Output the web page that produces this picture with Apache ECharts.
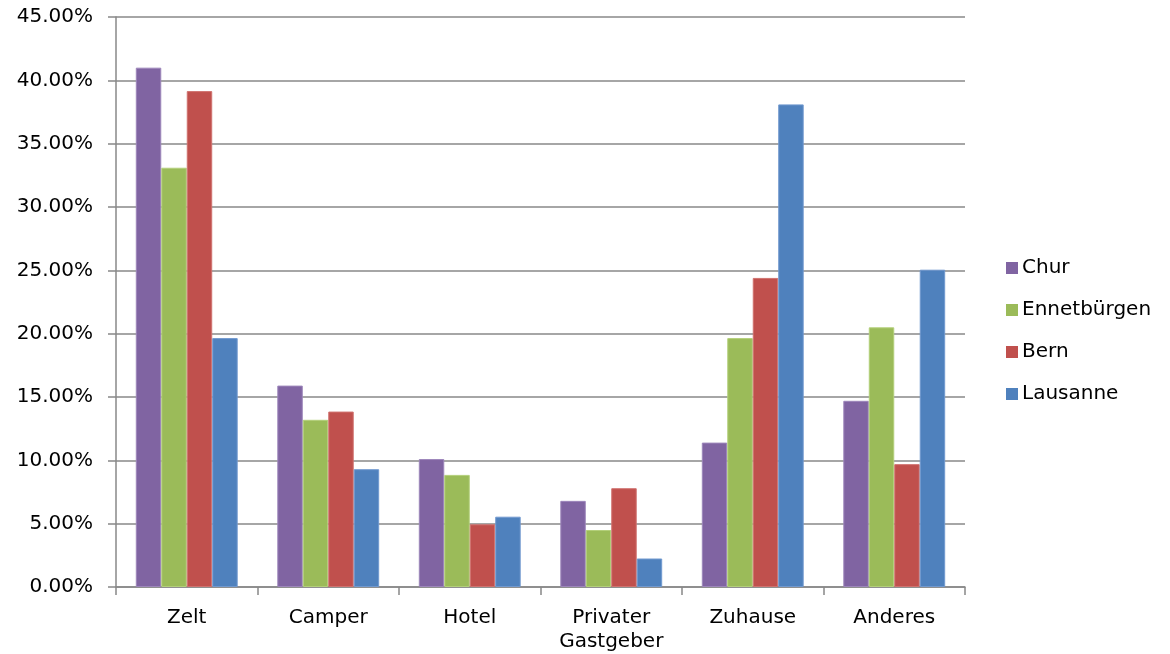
<!DOCTYPE html>
<html>
<head>
<meta charset="utf-8">
<script src="https://cdn.jsdelivr.net/npm/echarts@6/dist/echarts.min.js"></script>
<style>html,body{margin:0;padding:0;background:#fff}#c{width:1170px;height:654px}</style>
</head>
<body>
<div id="c"></div>
<script>
const categories = ['Zelt', 'Camper', 'Hotel', 'Privater\nGastgeber', 'Zuhause', 'Anderes'];
const seriesNames = ['Chur', 'Ennetbürgen', 'Bern', 'Lausanne'];
const chur = [41.0, 15.9, 10.1, 6.8, 11.4, 14.7];
const ennetbuergen = [33.1, 13.2, 8.85, 4.5, 19.65, 20.5];
const bern = [39.15, 13.85, 4.95, 7.8, 24.4, 9.7];
const lausanne = [19.65, 9.3, 5.55, 2.25, 38.1, 25.05];
const yTicks = { min: 0, max: 45, interval: 5 };

const colors = ['#8064A2', '#9BBB59', '#C0504D', '#4F81BD'];
const borders = ['#9d86bb', '#b3cf7a', '#d0726f', '#7199cf'];
const values = [chur, ennetbuergen, bern, lausanne];
const font = 'DejaVu Sans, Verdana, sans-serif';

const chart = echarts.init(document.getElementById('c'), null, { renderer: 'canvas' });
chart.setOption({
  animation: false,
  backgroundColor: '#fff',
  grid: { left: 116, right: 205, top: 17, bottom: 67, containLabel: false, outerBoundsMode: 'none' },
  legend: {
    orient: 'vertical',
    left: 1006,
    top: 258,
    padding: 0,
    itemWidth: 12,
    itemHeight: 12,
    itemGap: 22,
    icon: 'rect',
    itemStyle: { borderWidth: 0 },
    textStyle: { fontFamily: font, fontSize: 20, color: '#000', padding: [0, 0, 0, -1] },
    data: seriesNames
  },
  xAxis: {
    type: 'category',
    data: categories,
    axisLine: { lineStyle: { color: '#888', width: 1.5 } },
    axisTick: { show: true, alignWithLabel: false, length: 8, lineStyle: { color: '#888', width: 1.5 } },
    axisLabel: { fontFamily: font, fontSize: 20, color: '#000', margin: 19, lineHeight: 24 }
  },
  yAxis: {
    type: 'value',
    min: yTicks.min,
    max: yTicks.max,
    interval: yTicks.interval,
    axisLine: { show: true, lineStyle: { color: '#888', width: 1.5 } },
    axisTick: { show: true, length: 8, lineStyle: { color: '#888', width: 1.5 } },
    splitLine: { show: true, lineStyle: { color: '#888', width: 1.5 } },
    axisLabel: { fontFamily: font, fontSize: 20, color: '#000', margin: 23, formatter: v => v.toFixed(2) + '%' }
  },
  series: seriesNames.map((n, i) => ({
    name: n,
    type: 'bar',
    data: values[i],
    barGap: '0%',
    barCategoryGap: '28%',
    itemStyle: { color: colors[i], borderColor: borders[i], borderWidth: 1 }
  }))
});
</script>
</body>
</html>
